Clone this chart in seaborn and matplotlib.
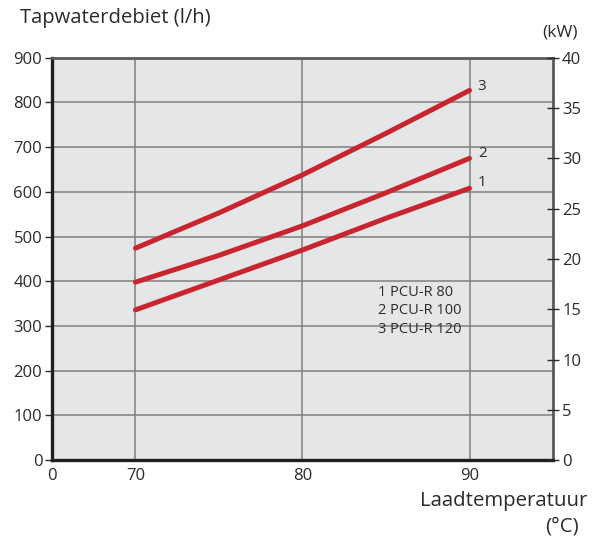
import seaborn as sns
import matplotlib.pyplot as plt
import pandas as pd

# Data
temps = [70, 75, 80, 85, 90]
flow_1 = [336, 403, 470, 541, 608]   # PCU-R 80
flow_2 = [398, 458, 524, 598, 675]   # PCU-R 100
flow_3 = [474, 553, 638, 731, 827]   # PCU-R 120
series_names = ['1', '2', '3']
legend_lines = ['1 PCU-R 80', '2 PCU-R 100', '3 PCU-R 120']
y_ticks = [0, 100, 200, 300, 400, 500, 600, 700, 800, 900]
kw_ticks = [0, 5, 10, 15, 20, 25, 30, 35, 40]
x_ticks = [65, 70, 80, 90]
x_ticklabels = ['0', '70', '80', '90']

sns.set_style("white")
plt.rcParams['font.family'] = ['Open Sans', 'DejaVu Sans']

df = pd.DataFrame({
    'temp': temps * 3,
    'flow': flow_1 + flow_2 + flow_3,
    'serie': [s for s in series_names for _ in temps],
})

text_color = '#2b2b2b'
red = '#c9252f'
grid_color = '#808080'

fig = plt.figure(figsize=(5.94, 5.4), dpi=100)
ax = fig.add_axes([0.0875, 0.148, 0.8435, 0.745])
ax.set_facecolor('#e5e6e8')

sns.lineplot(data=df, x='temp', y='flow', units='serie', estimator=None,
             color=red, linewidth=3.6, ax=ax, legend=False,
             solid_capstyle='round', zorder=3)

ax.set_xlim(65, 95)
ax.set_ylim(0, 900)
ax.set_yticks(y_ticks)
ax.set_xticks(x_ticks)
ax.set_xticklabels(x_ticklabels)
ax.set_xlabel('')
ax.set_ylabel('')

# grid: vertical at 70/80/90, horizontal at each 100
for v in [70, 80, 90]:
    ax.axvline(v, color=grid_color, lw=1.1, zorder=1)
for h in y_ticks[1:]:
    ax.axhline(h, color=grid_color, lw=1.1, zorder=1)

ax.tick_params(axis='both', labelsize=12, colors=text_color, length=5,
               width=1, direction='out', pad=2)
ax.tick_params(axis='x', pad=1)
for s in ['left', 'bottom']:
    ax.spines[s].set_color('#231f20')
    ax.spines[s].set_linewidth(2.4)
for s in ['top', 'right']:
    ax.spines[s].set_color('#58595b')
    ax.spines[s].set_linewidth(2.0)

# right kW axis
ax2 = ax.twinx()
ax2.set_ylim(0, 40)
ax2.set_yticks(kw_ticks)
ax2.tick_params(axis='y', labelsize=12, colors=text_color, length=9,
                width=1, direction='inout', pad=2)
for s in ax2.spines.values():
    s.set_visible(False)

# line end labels
ax.text(90.5, flow_1[-1] + 14, '1', fontsize=11, color=text_color, va='center')
ax.text(90.5, flow_2[-1] + 10, '2', fontsize=11, color=text_color, va='center')
ax.text(90.5, flow_3[-1] + 8, '3', fontsize=11, color=text_color, va='center')

for i, t in enumerate(legend_lines):
    ax.text(84.5, 376 - i * 42, t, fontsize=10.5, color=text_color,
            va='center', ha='left')

fig.text(0.034, 0.966, 'Tapwaterdebiet (l/h)', fontsize=14.6, color=text_color,
         va='center', ha='left')
fig.text(0.973, 0.939, '(kW)', fontsize=12.5, color=text_color,
         va='center', ha='right')
fig.text(0.989, 0.073, 'Laadtemperatuur', fontsize=14.7, color=text_color,
         va='center', ha='right')
fig.text(0.974, 0.025, '(°C)', fontsize=14.7, color=text_color,
         va='center', ha='right')

plt.savefig('out.png', dpi=100)
